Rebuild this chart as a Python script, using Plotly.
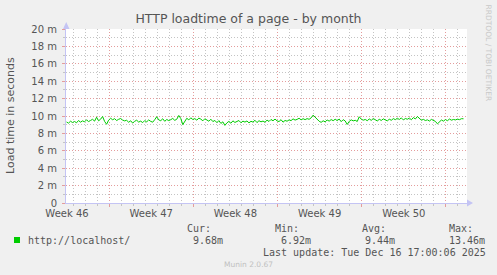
import plotly.graph_objects as go
import pandas as pd

# ---- data ----
load_time_ms = [
    9.31, 9.18, 9.40, 9.25, 9.37, 9.22, 9.48, 9.29, 9.44, 9.33, 9.56, 9.36, 9.49, 9.62, 9.41,
    9.86, 9.45, 9.63, 9.94, 9.38, 9.05, 9.52, 9.74, 9.57, 9.69, 9.48, 9.62, 9.71, 9.53, 9.44,
    9.51, 9.28, 9.45, 9.19, 9.39, 9.52, 9.30, 9.41, 9.24, 9.47, 9.33, 9.55, 9.38, 9.29, 9.58,
    9.91, 9.55, 9.46, 9.68, 9.39, 9.60, 9.47, 9.58, 9.72, 9.50, 9.63, 10.06, 9.71, 9.01, 9.34,
    9.74, 9.55, 9.79, 9.60, 9.70, 9.52, 9.76, 9.64, 9.45, 9.68, 9.57, 9.40, 9.63, 9.36, 9.49,
    9.24, 9.47, 9.15, 9.33, 8.92, 9.21, 9.38, 9.17, 9.44, 9.26, 9.35, 9.48, 9.22, 9.41, 9.30,
    9.43, 9.21, 9.39, 9.30, 9.51, 9.24, 9.46, 9.33, 9.42, 9.28, 9.53, 9.37, 9.60, 9.45, 9.65,
    9.44, 9.36, 9.58, 9.29, 9.49, 9.40, 9.55, 9.47, 9.67, 9.53, 9.61, 9.74, 9.56, 9.69, 9.58,
    9.70, 9.62, 9.78, 10.10, 9.86, 9.65, 9.40, 9.27, 9.45, 9.33, 9.54, 9.41, 9.59, 9.46, 9.63,
    9.47, 9.65, 9.35, 9.58, 9.43, 9.03, 9.38, 9.56, 9.44, 9.51, 9.37, 9.91, 9.64, 9.52, 9.60,
    9.46, 9.66, 9.50, 9.71, 9.55, 9.43, 9.62, 9.49, 9.67, 9.53, 9.44, 9.63, 9.51, 9.70, 9.58,
    9.74, 9.60, 9.78, 9.55, 9.71, 9.63, 9.76, 9.57, 9.82, 9.66, 9.94, 9.70, 9.52, 9.61, 9.48,
    9.56, 9.42, 9.61, 9.45, 9.38, 9.10, 9.35, 9.54, 9.41, 9.59, 9.46, 9.65, 9.52, 9.60, 9.55,
    9.64, 9.58, 9.69, 9.68,
]
series_start = "2025-11-13 11:00"
series_step = "4h"
x_range = ["2025-11-13 10:00", "2025-12-16 18:00"]

week_label_pos = ["2025-11-13 12:00", "2025-11-20 12:00", "2025-11-27 12:00",
                  "2025-12-04 12:00", "2025-12-11 12:00"]
week_labels = ["Week 46", "Week 47", "Week 48", "Week 49", "Week 50"]
week_grid_start = "2025-11-17"

y_tick_vals = [0, 0.002, 0.004, 0.006, 0.008, 0.010, 0.012, 0.014, 0.016, 0.018, 0.020]
y_tick_text = ["0", "2 m", "4 m", "6 m", "8 m", "10 m", "12 m", "14 m", "16 m", "18 m", "20 m"]

legend_name = "http://localhost/"
stat_names = ["Cur:", "Min:", "Avg:", "Max:"]
stat_values = ["9.68m", "6.92m", "9.44m", "13.46m"]
last_update = "Last update: Tue Dec 16 17:00:06 2025"

# ---- figure ----
W, H = 497, 275
L, R, T, B = 66, 467, 29, 203

def px(x):
    return (x - L) / (R - L)

def py(y):
    return (B - y) / (B - T)

times = pd.date_range(series_start, periods=len(load_time_ms), freq=series_step)
vals = [v / 1000.0 for v in load_time_ms]

GREEN = "#00CC00"
MAJ = "#E49C9C"
MIN = "#C4C4C4"
AX = "#C4C4F4"
TXT = "#555555"
FONT = "DejaVu Sans"
MONO = "DejaVu Sans Mono"

fig = go.Figure()
fig.add_trace(go.Scatter(x=times, y=vals, mode="lines",
                         line=dict(color=GREEN, width=1), showlegend=False,
                         hoverinfo="skip"))
# invisible trace for the label axis
fig.add_trace(go.Scatter(x=[times[0]], y=[None], xaxis="x2", showlegend=False,
                         hoverinfo="skip"))

fig.update_layout(
    width=W, height=H,
    margin=dict(l=L, r=W - R, t=T, b=H - B, pad=0),
    paper_bgcolor="#F0F0F0", plot_bgcolor="#FFFFFF",
    font=dict(family=FONT, size=10, color=TXT),
    title=dict(text="HTTP loadtime of a page - by month", x=0.5, xref="container",
               xanchor="center", y=1 - 19 / H, yref="container", yanchor="middle",
               font=dict(family=FONT, size=12.5, color=TXT)),
    xaxis=dict(type="date", range=x_range, tickmode="linear", tick0=week_grid_start,
               dtick=7 * 86400000, showticklabels=False,
               showgrid=True, gridcolor=MAJ, griddash="1px,2px", gridwidth=1,
               ticks="outside", ticklen=3, tickcolor=MAJ,
               minor=dict(dtick=86400000, tick0=week_grid_start, showgrid=True,
                          gridcolor=MIN, griddash="1px,2px", ticks="outside",
                          ticklen=2, tickcolor=MIN),
               showline=True, linecolor=AX, linewidth=1, zeroline=False,
               fixedrange=True),
    xaxis2=dict(type="date", overlaying="x", anchor="y", side="bottom",
                range=x_range, tickmode="array", tickvals=week_label_pos,
                ticktext=week_labels, showgrid=False, showline=False, ticks="",
                zeroline=False, tickfont=dict(family=FONT, size=10, color=TXT),
                ticklabelstandoff=3),
    yaxis=dict(range=[0, 0.02], tickmode="array", tickvals=y_tick_vals,
               ticktext=y_tick_text, showgrid=True, gridcolor=MAJ,
               griddash="1px,2px", ticks="outside", ticklen=3, tickcolor=MAJ,
               minor=dict(dtick=0.001, tick0=0, showgrid=True, gridcolor=MIN,
                          griddash="1px,2px", ticks="outside", ticklen=2,
                          tickcolor=MIN),
               showline=True, linecolor=AX, linewidth=1, zeroline=False,
               tickfont=dict(family=FONT, size=10, color=TXT), ticklabelstandoff=3,
               fixedrange=True),
)

ann = []
ann.append(dict(text="Load time in seconds", xref="paper", yref="paper",
                x=px(10), y=py(116), xanchor="center", yanchor="middle",
                textangle=-90, showarrow=False,
                font=dict(family=FONT, size=11, color=TXT)))
ann.append(dict(text="RRDTOOL / TOBI OETIKER", xref="paper", yref="paper",
                x=px(488.5), y=py(53), xanchor="center", yanchor="middle",
                textangle=90, showarrow=False,
                font=dict(family=FONT, size=7.5, color="#C8C8C8")))
ann.append(dict(text=legend_name, xref="paper", yref="paper", x=px(26), y=py(240),
                xanchor="left", yanchor="middle", showarrow=False,
                font=dict(family=MONO, size=10, color=TXT)))
name_left = [185, 273, 360, 447]
val_left = [191, 279, 363, 447]
for n, v, xn, xv in zip(stat_names, stat_values, name_left, val_left):
    ann.append(dict(text=n, xref="paper", yref="paper", x=px(xn), y=py(228),
                    xanchor="left", yanchor="middle", showarrow=False,
                    font=dict(family=MONO, size=10, color=TXT)))
    ann.append(dict(text=v, xref="paper", yref="paper", x=px(xv), y=py(240),
                    xanchor="left", yanchor="middle", showarrow=False,
                    font=dict(family=MONO, size=10, color=TXT)))
ann.append(dict(text=last_update, xref="paper", yref="paper", x=px(261), y=py(252),
                xanchor="left", yanchor="middle", showarrow=False,
                font=dict(family=MONO, size=10, color=TXT)))
ann.append(dict(text="Munin 2.0.67", xref="paper", yref="paper", x=px(248), y=py(264),
                xanchor="center", yanchor="middle", showarrow=False,
                font=dict(family=FONT, size=7.5, color="#C0C0C0")))
fig.update_layout(annotations=ann)

shapes = [
    dict(type="rect", xref="paper", yref="paper", x0=px(14), x1=px(20),
         y0=py(243), y1=py(237), fillcolor=GREEN, line=dict(width=0)),
    dict(type="path", xref="paper", yref="paper",
         path=f"M {px(63)} {py(29)} L {px(69.5)} {py(29)} L {px(66.2)} {py(22)} Z",
         fillcolor=AX, line=dict(width=0)),
    dict(type="path", xref="paper", yref="paper",
         path=f"M {px(467)} {py(199.5)} L {px(467)} {py(206.5)} L {px(473)} {py(203)} Z",
         fillcolor=AX, line=dict(width=0)),
]
fig.update_layout(shapes=shapes)

fig.write_html("out.html")
